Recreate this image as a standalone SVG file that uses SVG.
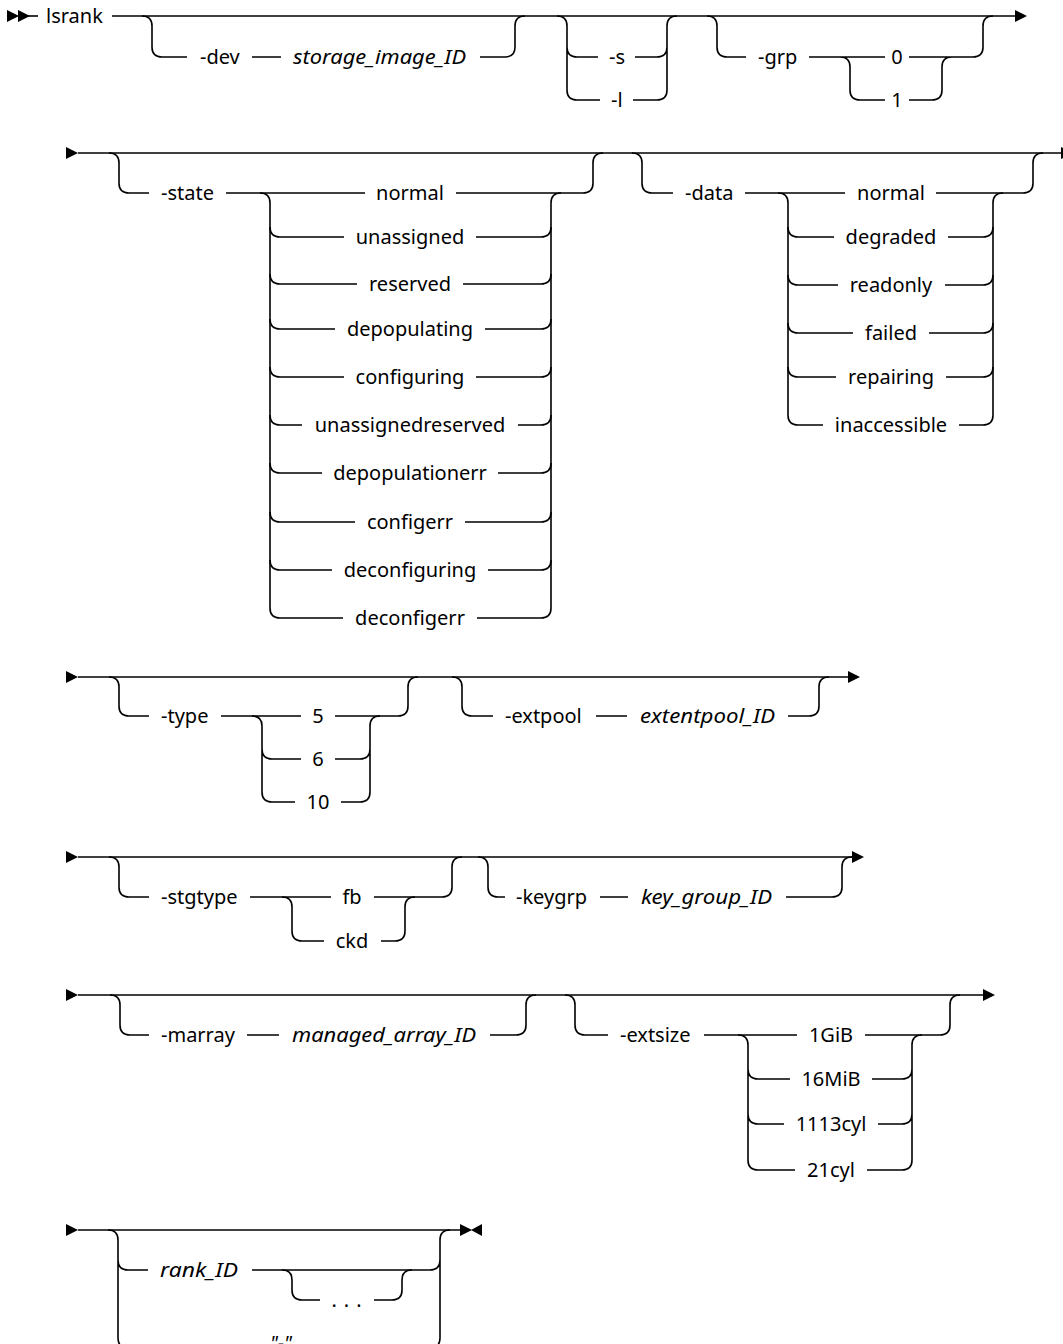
<svg xmlns="http://www.w3.org/2000/svg" xmlns:xlink="http://www.w3.org/1999/xlink" width="1063" height="1344" viewBox="0 0 1063 1344">
<style>
.l{fill:none;stroke:#000;stroke-width:1.6}
.t{font-family:"Noto Sans","Open Sans","Liberation Sans",sans-serif;font-size:20px;fill:#000}
.i{font-style:italic}
.m{text-anchor:middle}
.a{fill:#000}
</style>
<defs>
<path id="arr" d="M0,-6 L12,0 L0,6 Z"/>
<path id="arl" d="M0,-6 L-11,0 L0,6 Z"/>
</defs>
<rect width="1063" height="1344" fill="#fff"/>
<g id="connectors">
<!-- row 1 -->
<use href="#arr" class="a" x="7" y="16"/>
<use href="#arr" class="a" x="18" y="16"/>
<path class="l" d="M28,16 H38"/>
<path class="l" d="M112,16 H1016"/>
<use href="#arr" class="a" x="1015" y="16"/>
<path class="l" d="M142,16 Q152,16 152,26 V47 Q152,57 162,57 H187 M252,57 H281 M480,57 H505 Q515,57 515,47 V26 Q515,16 525,16"/>
<path class="l" d="M557,16 Q567,16 567,26 V90 Q567,100 577,100 H600 M567,47 Q567,57 577,57 H598 M635,57 H657 Q667,57 667,47 M633,100 H657 Q667,100 667,90 V26 Q667,16 677,16"/>
<path class="l" d="M707,16 Q717,16 717,26 V47 Q717,57 727,57 H746 M809,57 H885 M840,57 Q850,57 850,67 V90 Q850,100 860,100 H885 M909,57 H973 Q983,57 983,47 V26 Q983,16 993,16 M909,100 H932 Q942,100 942,90 V67 Q942,57 952,57"/>
<!-- row 2 -->
<use href="#arr" class="a" x="66" y="153"/>
<path class="l" d="M78,153 H1061"/>
<use href="#arr" class="a" x="1061" y="153"/>
<path class="l" d="M109,153 Q119,153 119,163 V183 Q119,193 129,193 H149 M226,193 H365 M456,193 H583 Q593,193 593,183 V163 Q593,153 603,153"/>
<path class="l" d="M260,193 Q270,193 270,203 V608 Q270,618 280,618 H343 M477,618 H541 Q551,618 551,608 V203 Q551,193 561,193"/>
<path class="l" d="M270,227 Q270,237 280,237 H344 M476,237 H541 Q551,237 551,227"/>
<path class="l" d="M270,274 Q270,284 280,284 H357 M463,284 H541 Q551,284 551,274"/>
<path class="l" d="M270,319 Q270,329 280,329 H335 M485,329 H541 Q551,329 551,319"/>
<path class="l" d="M270,367 Q270,377 280,377 H344 M476,377 H541 Q551,377 551,367"/>
<path class="l" d="M270,415 Q270,425 280,425 H302 M518,425 H541 Q551,425 551,415"/>
<path class="l" d="M270,463 Q270,473 280,473 H322 M498,473 H541 Q551,473 551,463"/>
<path class="l" d="M270,512 Q270,522 280,522 H355 M465,522 H541 Q551,522 551,512"/>
<path class="l" d="M270,560 Q270,570 280,570 H332 M488,570 H541 Q551,570 551,560"/>
<path class="l" d="M632,153 Q642,153 642,163 V183 Q642,193 652,193 H673 M745,193 H845 M936,193 H1023 Q1033,193 1033,183 V163 Q1033,153 1043,153"/>
<path class="l" d="M778,193 Q788,193 788,203 V415 Q788,425 798,425 H823 M959,425 H983 Q993,425 993,415 V203 Q993,193 1003,193"/>
<path class="l" d="M788,227 Q788,237 798,237 H834 M948,237 H983 Q993,237 993,227"/>
<path class="l" d="M788,275 Q788,285 798,285 H838 M945,285 H983 Q993,285 993,275"/>
<path class="l" d="M788,323 Q788,333 798,333 H853 M929,333 H983 Q993,333 993,323"/>
<path class="l" d="M788,367 Q788,377 798,377 H836 M946,377 H983 Q993,377 993,367"/>
<!-- row 3 -->
<use href="#arr" class="a" x="66" y="677"/>
<path class="l" d="M78,677 H849"/>
<use href="#arr" class="a" x="848" y="677"/>
<path class="l" d="M109,677 Q119,677 119,687 V706 Q119,716 129,716 H149 M221,716 H301 M335,716 H398 Q408,716 408,706 V687 Q408,677 418,677"/>
<path class="l" d="M252,716 Q262,716 262,726 V792 Q262,802 272,802 H295 M262,749 Q262,759 272,759 H301 M370,792 V726 Q370,716 380,716 M335,759 H360 Q370,759 370,749 M341,802 H360 Q370,802 370,792"/>
<path class="l" d="M452,677 Q462,677 462,687 V706 Q462,716 472,716 H493 M596,716 H627 M788,716 H809 Q819,716 819,706 V687 Q819,677 829,677"/>
<!-- row 4 -->
<use href="#arr" class="a" x="66" y="857"/>
<path class="l" d="M78,857 H853"/>
<use href="#arr" class="a" x="852" y="857"/>
<path class="l" d="M109,857 Q119,857 119,867 V887 Q119,897 129,897 H149 M250,897 H331 M374,897 H442 Q452,897 452,887 V867 Q452,857 462,857"/>
<path class="l" d="M282,897 Q292,897 292,907 V931 Q292,941 302,941 H324 M381,941 H395 Q405,941 405,931 V907 Q405,897 415,897"/>
<path class="l" d="M478,857 Q488,857 488,867 V887 Q488,897 498,897 H505 M600,897 H628 M786,897 H832 Q842,897 842,887 V867 Q842,857 852,857"/>
<!-- row 5 -->
<use href="#arr" class="a" x="66" y="995"/>
<path class="l" d="M78,995 H984"/>
<use href="#arr" class="a" x="983" y="995"/>
<path class="l" d="M110,995 Q120,995 120,1005 V1025 Q120,1035 130,1035 H149 M247,1035 H279 M490,1035 H516 Q526,1035 526,1025 V1005 Q526,995 536,995"/>
<path class="l" d="M565,995 Q575,995 575,1005 V1025 Q575,1035 585,1035 H608 M704,1035 H797 M865,1035 H940 Q950,1035 950,1025 V1005 Q950,995 960,995"/>
<path class="l" d="M738,1035 Q748,1035 748,1045 V1160 Q748,1170 758,1170 H795 M748,1069 Q748,1079 758,1079 H790 M748,1114 Q748,1124 758,1124 H784 M912,1160 V1045 Q912,1035 922,1035 M872,1079 H902 Q912,1079 912,1069 M878,1124 H902 Q912,1124 912,1114 M867,1170 H902 Q912,1170 912,1160"/>
<!-- row 6 -->
<use href="#arr" class="a" x="66" y="1230"/>
<path class="l" d="M78,1230 H460"/>
<use href="#arr" class="a" x="460" y="1230"/>
<use href="#arl" class="a" x="482" y="1230"/>
<path class="l" d="M108,1230 Q118,1230 118,1240 V1338 Q118,1348 128,1348 H255 M118,1260 Q118,1270 128,1270 H148 M252,1270 H430 Q440,1270 440,1260 M307,1348 H430 Q440,1348 440,1338 V1240 Q440,1230 450,1230"/>
<path class="l" d="M282,1270 Q292,1270 292,1280 V1290 Q292,1300 302,1300 H320 M374,1300 H392 Q402,1300 402,1290 V1280 Q402,1270 412,1270"/>
</g>
<g id="n-lsrank"><text class="t" x="46" y="23">lsrank</text></g>
<g id="n-dev"><text class="t" x="200" y="64">-dev</text></g>
<g id="n-storage"><text class="t i" x="293" y="64" textLength="173" lengthAdjust="spacingAndGlyphs">storage_image_ID</text></g>
<g id="n-s"><text class="t" x="609" y="64">-s</text></g>
<g id="n-l"><text class="t" x="611" y="107">-l</text></g>
<g id="n-grp"><text class="t" x="758" y="64">-grp</text></g>
<g id="n-grp0"><text class="t m" x="897" y="64">0</text></g>
<g id="n-grp1"><text class="t m" x="897" y="107">1</text></g>
<g id="n-state"><text class="t" x="161" y="200">-state</text></g>
<g id="n-s-normal"><text class="t m" x="410" y="200">normal</text></g>
<g id="n-s-unassigned"><text class="t m" x="410" y="244">unassigned</text></g>
<g id="n-s-reserved"><text class="t m" x="410" y="291">reserved</text></g>
<g id="n-s-depopulating"><text class="t m" x="410" y="336">depopulating</text></g>
<g id="n-s-configuring"><text class="t m" x="410" y="384">configuring</text></g>
<g id="n-s-unassignedreserved"><text class="t m" x="410" y="432">unassignedreserved</text></g>
<g id="n-s-depopulationerr"><text class="t m" x="410" y="480">depopulationerr</text></g>
<g id="n-s-configerr"><text class="t m" x="410" y="529">configerr</text></g>
<g id="n-s-deconfiguring"><text class="t m" x="410" y="577">deconfiguring</text></g>
<g id="n-s-deconfigerr"><text class="t m" x="410" y="625">deconfigerr</text></g>
<g id="n-data"><text class="t" x="685" y="200">-data</text></g>
<g id="n-d-normal"><text class="t m" x="891" y="200">normal</text></g>
<g id="n-d-degraded"><text class="t m" x="891" y="244">degraded</text></g>
<g id="n-d-readonly"><text class="t m" x="891" y="292">readonly</text></g>
<g id="n-d-failed"><text class="t m" x="891" y="340">failed</text></g>
<g id="n-d-repairing"><text class="t m" x="891" y="384">repairing</text></g>
<g id="n-d-inaccessible"><text class="t m" x="891" y="432">inaccessible</text></g>
<g id="n-type"><text class="t" x="161" y="723">-type</text></g>
<g id="n-type5"><text class="t m" x="318" y="723">5</text></g>
<g id="n-type6"><text class="t m" x="318" y="766">6</text></g>
<g id="n-type10"><text class="t m" x="318" y="809">10</text></g>
<g id="n-extpool"><text class="t" x="505" y="723">-extpool</text></g>
<g id="n-extentpool"><text class="t i" x="640" y="723" textLength="135" lengthAdjust="spacingAndGlyphs">extentpool_ID</text></g>
<g id="n-stgtype"><text class="t" x="161" y="904">-stgtype</text></g>
<g id="n-fb"><text class="t m" x="352" y="904">fb</text></g>
<g id="n-ckd"><text class="t m" x="352" y="948">ckd</text></g>
<g id="n-keygrp"><text class="t" x="516" y="904">-keygrp</text></g>
<g id="n-keygroup"><text class="t i" x="641" y="904" textLength="131" lengthAdjust="spacingAndGlyphs">key_group_ID</text></g>
<g id="n-marray"><text class="t" x="161" y="1042">-marray</text></g>
<g id="n-managed"><text class="t i" x="292" y="1042" textLength="184" lengthAdjust="spacingAndGlyphs">managed_array_ID</text></g>
<g id="n-extsize"><text class="t" x="620" y="1042">-extsize</text></g>
<g id="n-1gib"><text class="t m" x="831" y="1042">1GiB</text></g>
<g id="n-16mib"><text class="t m" x="831" y="1086">16MiB</text></g>
<g id="n-1113cyl"><text class="t m" x="831" y="1131">1113cyl</text></g>
<g id="n-21cyl"><text class="t m" x="831" y="1177">21cyl</text></g>
<g id="n-rankid"><text class="t i" x="160" y="1277" textLength="78" lengthAdjust="spacingAndGlyphs">rank_ID</text></g>
<g id="n-dots"><text class="t m" x="350" y="1307" letter-spacing="7">...</text></g>
<g id="n-dash"><text class="t i m" x="281" y="1350">"-"</text></g>
</svg>
